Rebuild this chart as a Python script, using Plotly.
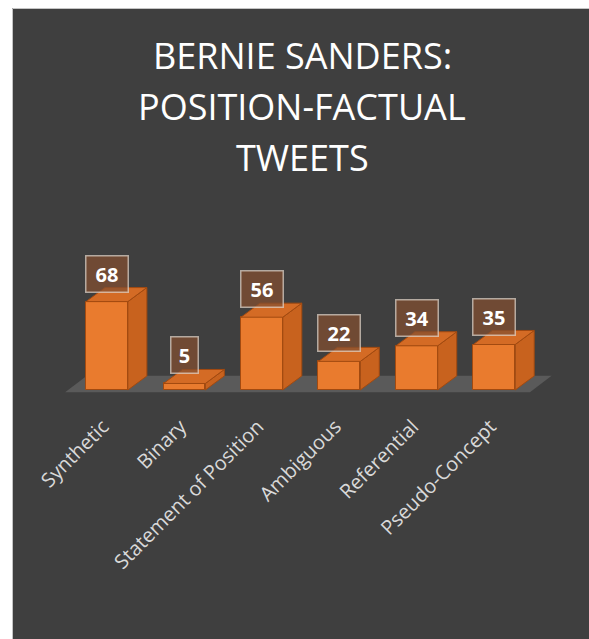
import plotly.graph_objects as go

# ---- data -------------------------------------------------------------
categories = ["Synthetic", "Binary", "Statement of Position",
              "Ambiguous", "Referential", "Pseudo-Concept"]
counts = [68, 5, 56, 22, 34, 35]
title_lines = ["BERNIE SANDERS:", "POSITION-FACTUAL", "TWEETS"]

# ---- geometry / style ---------------------------------------------------
W, H = 589, 639
ML, MR, MT, MB = 45, 25, 240, 239
X_RANGE = [-0.8, 5.9]
Y_RANGE = [-7.7, 115.4]
PLOT_W = W - ML - MR
PLOT_H = H - MT - MB

BAR_W = 0.54          # front-face width in category units
DEPTH_X = 0.245       # oblique depth offset (x units)
DEPTH_Y = 10.8        # oblique depth offset (value units)

BG = "#3f3f3f"
FRONT = "#e97b2e"
TOP = "#d46b25"
SIDE = "#c8621e"
EDGE = "#a24a10"
FLOOR = "#5a5a5a"
TICK_COLOR = "#d9d9d9"


def px_x(px):
    return (px - ML) / PLOT_W


def px_y(py):
    return (H - MB - py) / PLOT_H


def poly(points):
    return "M " + " L ".join(f"{x},{y}" for x, y in points) + " Z"


idx = list(range(len(categories)))

fig = go.Figure()
fig.add_trace(go.Bar(
    x=idx, y=counts, width=BAR_W,
    marker=dict(color=FRONT, line=dict(color=EDGE, width=1)),
    hoverinfo="skip",
))

shapes = []
# white page margin on the top and left of the dark panel, with a thin frame
shapes.append(dict(type="rect", xref="paper", yref="paper", layer="below",
                   x0=px_x(-5), x1=px_x(700), y0=px_y(8), y1=px_y(-5),
                   fillcolor="white", line=dict(width=0)))
shapes.append(dict(type="rect", xref="paper", yref="paper", layer="below",
                   x0=px_x(-5), x1=px_x(12), y0=px_y(700), y1=px_y(-5),
                   fillcolor="white", line=dict(width=0)))
shapes.append(dict(type="path", xref="paper", yref="paper", layer="below",
                   path=f"M {px_x(12.5)},{px_y(700)} L {px_x(12.5)},{px_y(8.5)} "
                        f"L {px_x(700)},{px_y(8.5)}",
                   line=dict(color="#c4c4c4", width=1)))

# floor plane under the bars
fx0, fx1 = -0.54, len(categories) - 0.54
fy0, fdx, fdy = -1.7, 0.28, 12.7
shapes.append(dict(type="path", xref="x", yref="y", layer="below",
                   path=poly([(fx0, fy0), (fx1, fy0),
                              (fx1 + fdx, fy0 + fdy), (fx0 + fdx, fy0 + fdy)]),
                   fillcolor=FLOOR, line=dict(width=0)))

# top and side faces of each box
for i, v in zip(idx, counts):
    l, r = i - BAR_W / 2, i + BAR_W / 2
    shapes.append(dict(type="path", xref="x", yref="y", layer="above",
                       path=poly([(r, 0), (r, v), (r + DEPTH_X, v + DEPTH_Y),
                                  (r + DEPTH_X, DEPTH_Y)]),
                       fillcolor=SIDE, line=dict(color=EDGE, width=1)))
    shapes.append(dict(type="path", xref="x", yref="y", layer="above",
                       path=poly([(l, v), (r, v), (r + DEPTH_X, v + DEPTH_Y),
                                  (l + DEPTH_X, v + DEPTH_Y)]),
                       fillcolor=TOP, line=dict(color=EDGE, width=1)))

annotations = []
# value labels in translucent boxes
for i, v in zip(idx, counts):
    txt = str(v)
    annotations.append(dict(
        x=i, y=v, xref="x", yref="y", yanchor="bottom", yshift=9,
        text=f"<b>{txt}</b>", showarrow=False,
        font=dict(family="Open Sans", size=20, color="white"),
        bgcolor="rgba(132,79,49,0.72)", bordercolor="rgba(225,215,205,0.7)",
        borderwidth=1.5, borderpad=4,
        width=15 * len(txt) + 3, height=27,
    ))

# title, one annotation per line
for k, (line, cy) in enumerate(zip(title_lines, [55, 106, 157])):
    annotations.append(dict(
        x=px_x(302), y=px_y(cy), xref="paper", yref="paper",
        xanchor="center", yanchor="middle", text=line, showarrow=False,
        font=dict(family="Open Sans", size=36, color="white"),
    ))

fig.update_layout(
    width=W, height=H,
    margin=dict(l=ML, r=MR, t=MT, b=MB, autoexpand=False),
    paper_bgcolor=BG, plot_bgcolor="rgba(0,0,0,0)",
    showlegend=False, bargap=0,
    shapes=shapes, annotations=annotations,
    xaxis=dict(range=X_RANGE, tickmode="array", tickvals=idx, ticktext=categories,
               tickangle=-45, showgrid=False, zeroline=False, showline=False,
               ticks="", ticklabelstandoff=10, ticklabelshift=-4,
               tickfont=dict(family="Open Sans", size=20, color=TICK_COLOR)),
    yaxis=dict(range=Y_RANGE, visible=False, showgrid=False, zeroline=False),
)

# page styling: no margin/scrollbars, and the panel colour continues past the figure
fig.write_html(
    "out.html",
    post_script="document.documentElement.style.overflow='hidden';"
                "document.documentElement.style.background='" + BG + "';"
                "document.body.style.margin='0';"
                "document.body.style.overflow='hidden';"
                "document.body.style.background='" + BG + "';",
)
